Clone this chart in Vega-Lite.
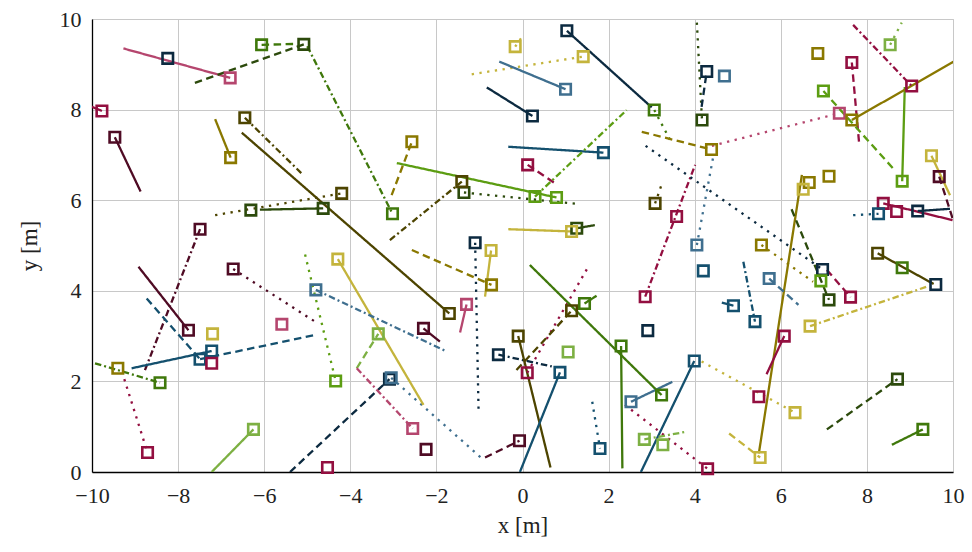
{
  "$schema": "https://vega.github.io/schema/vega-lite/v6.json",
  "width": 861,
  "height": 453,
  "autosize": {"type": "none"},
  "padding": {"left": 92, "top": 19, "right": 19, "bottom": 80},
  "background": "white",
  "config": {
    "view": {"stroke": "#c8c8c8", "strokeWidth": 1},
    "font": "Liberation Serif",
    "axis": {
      "labelFont": "Liberation Serif",
      "titleFont": "Liberation Serif",
      "labelFontSize": 22,
      "titleFontSize": 23,
      "titleFontWeight": "normal",
      "labelColor": "#222",
      "titleColor": "#222",
      "gridColor": "#c8c8c8",
      "gridWidth": 1,
      "domainColor": "#000",
      "domainWidth": 1.3,
      "ticks": false,
      "labelFlush": false,
      "labelPadding": 8
    }
  },
  "datasets": {
    "segs": [
      {"id":1,"p":0,"x":-6.79,"y":8.70,"c":"P","d":"s"},{"id":1,"p":1,"x":-9.27,"y":9.35,"c":"P","d":"s"},
      {"id":3,"p":0,"x":-5.08,"y":9.44,"c":"DG","d":"d"},{"id":3,"p":1,"x":-7.61,"y":8.59,"c":"DG","d":"d"},
      {"id":4,"p":0,"x":-6.06,"y":9.43,"c":"G","d":"d"},{"id":4,"p":1,"x":-5.25,"y":9.45,"c":"G","d":"d"},
      {"id":5,"p":0,"x":-9.77,"y":7.97,"c":"C","d":"s"},{"id":5,"p":1,"x":-10.05,"y":8.08,"c":"C","d":"s"},
      {"id":6,"p":0,"x":-9.47,"y":7.39,"c":"M","d":"s"},{"id":6,"p":1,"x":-8.87,"y":6.19,"c":"M","d":"s"},
      {"id":7,"p":0,"x":-6.78,"y":6.94,"c":"O","d":"s"},{"id":7,"p":1,"x":-7.14,"y":7.79,"c":"O","d":"s"},
      {"id":8,"p":0,"x":-6.45,"y":7.82,"c":"DO","d":"dd"},{"id":8,"p":1,"x":-5.13,"y":6.59,"c":"DO","d":"dd"},
      {"id":9,"p":0,"x":-1.70,"y":3.50,"c":"DO","d":"s"},{"id":9,"p":1,"x":-6.52,"y":7.49,"c":"DO","d":"s"},
      {"id":10,"p":0,"x":-4.63,"y":5.82,"c":"DG","d":"s"},{"id":10,"p":1,"x":-6.10,"y":5.79,"c":"DG","d":"s"},
      {"id":12,"p":0,"x":-4.20,"y":6.15,"c":"DO","d":"t"},{"id":12,"p":1,"x":-7.14,"y":5.67,"c":"DO","d":"t"},
      {"id":13,"p":0,"x":-7.49,"y":5.36,"c":"M","d":"dd"},{"id":13,"p":1,"x":-8.77,"y":2.25,"c":"M","d":"dd"},
      {"id":14,"p":0,"x":-6.72,"y":4.48,"c":"M","d":"t"},{"id":14,"p":1,"x":-4.82,"y":3.32,"c":"M","d":"t"},
      {"id":15,"p":0,"x":-7.76,"y":3.13,"c":"M","d":"s"},{"id":15,"p":1,"x":-8.92,"y":4.53,"c":"M","d":"s"},
      {"id":16,"p":0,"x":-7.49,"y":2.49,"c":"B","d":"d"},{"id":16,"p":1,"x":-8.73,"y":3.83,"c":"B","d":"d"},
      {"id":17,"p":2,"x":-7.49,"y":2.49,"c":"B","d":"d"},{"id":17,"p":1,"x":-4.80,"y":3.03,"c":"B","d":"d"},
      {"id":18,"p":0,"x":-7.22,"y":2.67,"c":"B","d":"s"},{"id":18,"p":1,"x":-9.08,"y":2.29,"c":"B","d":"s"},
      {"id":21,"p":0,"x":-8.71,"y":0.43,"c":"C","d":"t"},{"id":21,"p":1,"x":-9.25,"y":2.05,"c":"C","d":"t"},
      {"id":22,"p":0,"x":-8.42,"y":1.97,"c":"G","d":"dd"},{"id":22,"p":1,"x":-9.93,"y":2.40,"c":"G","d":"dd"},
      {"id":24,"p":0,"x":-6.25,"y":0.94,"c":"LG","d":"s"},{"id":24,"p":1,"x":-7.22,"y":0.0,"c":"LG","d":"s"},
      {"id":26,"p":0,"x":-4.34,"y":2.01,"c":"L","d":"t"},{"id":26,"p":1,"x":-5.05,"y":4.80,"c":"L","d":"t"},
      {"id":27,"p":0,"x":-3.09,"y":2.05,"c":"N","d":"d"},{"id":27,"p":1,"x":-5.40,"y":0.0,"c":"N","d":"d"},
      {"id":28,"p":0,"x":-3.05,"y":2.08,"c":"S","d":"t"},{"id":28,"p":1,"x":-0.92,"y":0.28,"c":"S","d":"t"},
      {"id":29,"p":0,"x":-0.72,"y":4.13,"c":"O","d":"d"},{"id":29,"p":1,"x":-2.57,"y":4.90,"c":"O","d":"d"},
      {"id":30,"p":0,"x":-0.73,"y":4.89,"c":"Y","d":"s"},{"id":30,"p":1,"x":-0.87,"y":3.87,"c":"Y","d":"s"},
      {"id":31,"p":0,"x":-4.29,"y":4.70,"c":"Y","d":"s"},{"id":31,"p":1,"x":-2.30,"y":1.48,"c":"Y","d":"s"},
      {"id":32,"p":0,"x":-4.80,"y":4.02,"c":"S","d":"dd"},{"id":32,"p":1,"x":-1.76,"y":2.66,"c":"S","d":"dd"},
      {"id":33,"p":0,"x":-3.35,"y":3.05,"c":"LG","d":"d"},{"id":33,"p":1,"x":-3.85,"y":2.29,"c":"LG","d":"d"},
      {"id":34,"p":0,"x":-2.55,"y":0.96,"c":"P","d":"dd"},{"id":34,"p":1,"x":-3.85,"y":2.29,"c":"P","d":"dd"},
      {"id":35,"p":0,"x":-2.30,"y":3.17,"c":"M","d":"s"},{"id":35,"p":1,"x":-1.92,"y":2.88,"c":"M","d":"s"},
      {"id":36,"p":0,"x":-1.30,"y":3.70,"c":"P","d":"s"},{"id":36,"p":1,"x":-1.45,"y":3.08,"c":"P","d":"s"},
      {"id":37,"p":0,"x":-1.10,"y":5.06,"c":"N","d":"t"},{"id":37,"p":1,"x":-1.02,"y":1.33,"c":"N","d":"t"},
      {"id":40,"p":0,"x":-0.07,"y":0.69,"c":"M","d":"d"},{"id":40,"p":1,"x":-0.87,"y":0.32,"c":"M","d":"d"},
      {"id":41,"p":0,"x":-0.56,"y":2.59,"c":"N","d":"dd"},{"id":41,"p":1,"x":0.68,"y":2.33,"c":"N","d":"dd"},
      {"id":42,"p":0,"x":-0.10,"y":3.00,"c":"DO","d":"s"},{"id":42,"p":1,"x":0.65,"y":0.10,"c":"DO","d":"s"},
      {"id":43,"p":0,"x":0.11,"y":2.19,"c":"C","d":"t"},{"id":43,"p":1,"x":1.51,"y":4.50,"c":"C","d":"t"},
      {"id":44,"p":0,"x":1.14,"y":3.56,"c":"DO","d":"d"},{"id":44,"p":1,"x":-0.14,"y":2.25,"c":"DO","d":"d"},
      {"id":45,"p":0,"x":1.44,"y":3.72,"c":"G","d":"s"},{"id":45,"p":1,"x":1.72,"y":3.89,"c":"G","d":"s"},
      {"id":46,"p":0,"x":3.23,"y":1.70,"c":"G","d":"s"},{"id":46,"p":1,"x":0.17,"y":4.57,"c":"G","d":"s"},
      {"id":48,"p":0,"x":0.87,"y":2.20,"c":"B","d":"s"},{"id":48,"p":1,"x":-0.06,"y":0.0,"c":"B","d":"s"},
      {"id":49,"p":0,"x":2.29,"y":2.78,"c":"G","d":"s"},{"id":49,"p":1,"x":2.32,"y":0.08,"c":"G","d":"s"},
      {"id":51,"p":0,"x":2.85,"y":3.87,"c":"C","d":"dd"},{"id":51,"p":1,"x":4.01,"y":6.78,"c":"C","d":"dd"},
      {"id":53,"p":0,"x":2.52,"y":1.55,"c":"S","d":"s"},{"id":53,"p":1,"x":3.48,"y":1.99,"c":"S","d":"s"},
      {"id":54,"p":0,"x":3.99,"y":2.45,"c":"B","d":"s"},{"id":54,"p":1,"x":2.75,"y":0.0,"c":"B","d":"s"},
      {"id":55,"p":0,"x":4.30,"y":0.07,"c":"C","d":"t"},{"id":55,"p":1,"x":2.38,"y":1.48,"c":"C","d":"t"},
      {"id":56,"p":0,"x":2.83,"y":0.72,"c":"LG","d":"dd"},{"id":56,"p":1,"x":3.81,"y":0.89,"c":"LG","d":"dd"},
      {"id":58,"p":0,"x":1.80,"y":0.52,"c":"B","d":"t"},{"id":58,"p":1,"x":1.62,"y":1.55,"c":"B","d":"t"},
      {"id":59,"p":0,"x":4.05,"y":5.01,"c":"S","d":"t"},{"id":59,"p":1,"x":4.43,"y":6.96,"c":"S","d":"t"},
      {"id":61,"p":0,"x":4.90,"y":3.67,"c":"B","d":"s"},{"id":61,"p":1,"x":4.63,"y":3.74,"c":"B","d":"s"},
      {"id":62,"p":0,"x":6.33,"y":1.31,"c":"Y","d":"t"},{"id":62,"p":1,"x":4.16,"y":2.44,"c":"Y","d":"t"},
      {"id":63,"p":0,"x":5.52,"y":0.32,"c":"Y","d":"d"},{"id":63,"p":1,"x":4.80,"y":0.85,"c":"Y","d":"d"},
      {"id":64,"p":2,"x":6.49,"y":6.56,"c":"O","d":"s"},{"id":64,"p":1,"x":5.49,"y":0.41,"c":"O","d":"s"},
      {"id":66,"p":0,"x":6.08,"y":3.00,"c":"C","d":"s"},{"id":66,"p":1,"x":5.67,"y":2.16,"c":"C","d":"s"},
      {"id":68,"p":0,"x":6.68,"y":3.22,"c":"Y","d":"dd"},{"id":68,"p":1,"x":9.39,"y":4.09,"c":"Y","d":"dd"},
      {"id":70,"p":0,"x":8.25,"y":4.83,"c":"DO","d":"s"},{"id":70,"p":1,"x":9.55,"y":4.15,"c":"DO","d":"s"},
      {"id":72,"p":0,"x":8.71,"y":2.05,"c":"DG","d":"d"},{"id":72,"p":1,"x":7.07,"y":0.94,"c":"DG","d":"d"},
      {"id":73,"p":0,"x":9.30,"y":0.94,"c":"G","d":"s"},{"id":73,"p":1,"x":8.58,"y":0.60,"c":"G","d":"s"},
      {"id":74,"p":0,"x":5.73,"y":4.27,"c":"S","d":"d"},{"id":74,"p":1,"x":6.41,"y":3.69,"c":"S","d":"d"},
      {"id":75,"p":0,"x":5.40,"y":3.32,"c":"B","d":"dd"},{"id":75,"p":1,"x":5.13,"y":4.64,"c":"B","d":"dd"},
      {"id":76,"p":0,"x":6.97,"y":4.47,"c":"N","d":"t"},{"id":76,"p":1,"x":2.86,"y":7.20,"c":"N","d":"t"},
      {"id":77,"p":0,"x":5.55,"y":5.01,"c":"O","d":"t"},{"id":77,"p":1,"x":6.75,"y":4.20,"c":"O","d":"t"},
      {"id":78,"p":0,"x":7.12,"y":3.80,"c":"DG","d":"d"},{"id":78,"p":1,"x":6.25,"y":5.80,"c":"DG","d":"d"},
      {"id":79,"p":0,"x":7.62,"y":3.86,"c":"C","d":"d"},{"id":79,"p":1,"x":7.07,"y":4.46,"c":"C","d":"d"},
      {"id":81,"p":0,"x":7.65,"y":9.04,"c":"C","d":"d"},{"id":81,"p":1,"x":7.82,"y":7.25,"c":"C","d":"d"},
      {"id":82,"p":0,"x":6.99,"y":8.41,"c":"L","d":"d"},{"id":82,"p":1,"x":8.61,"y":6.70,"c":"L","d":"d"},
      {"id":83,"p":0,"x":8.82,"y":6.42,"c":"L","d":"s"},{"id":83,"p":1,"x":8.88,"y":8.50,"c":"L","d":"s"},
      {"id":84,"p":0,"x":7.36,"y":7.92,"c":"P","d":"t"},{"id":84,"p":1,"x":4.40,"y":7.20,"c":"P","d":"t"},
      {"id":85,"p":0,"x":7.65,"y":7.77,"c":"O","d":"s"},{"id":85,"p":1,"x":10.02,"y":9.06,"c":"O","d":"s"},
      {"id":86,"p":0,"x":9.04,"y":8.52,"c":"C","d":"dd"},{"id":86,"p":1,"x":7.68,"y":9.87,"c":"C","d":"dd"},
      {"id":87,"p":0,"x":8.54,"y":9.43,"c":"LG","d":"t"},{"id":87,"p":1,"x":8.81,"y":9.92,"c":"LG","d":"t"},
      {"id":88,"p":0,"x":9.50,"y":6.98,"c":"Y","d":"s"},{"id":88,"p":1,"x":9.93,"y":6.11,"c":"Y","d":"s"},
      {"id":89,"p":0,"x":9.68,"y":6.52,"c":"M","d":"d"},{"id":89,"p":1,"x":9.99,"y":5.60,"c":"M","d":"d"},
      {"id":90,"p":0,"x":8.38,"y":5.93,"c":"C","d":"s"},{"id":90,"p":1,"x":9.99,"y":5.56,"c":"C","d":"s"},
      {"id":92,"p":0,"x":9.18,"y":5.76,"c":"N","d":"s"},{"id":92,"p":1,"x":9.93,"y":5.81,"c":"N","d":"s"},
      {"id":93,"p":0,"x":8.27,"y":5.70,"c":"B","d":"t"},{"id":93,"p":1,"x":7.68,"y":5.67,"c":"B","d":"t"},
      {"id":94,"p":0,"x":1.03,"y":9.74,"c":"N","d":"s"},{"id":94,"p":1,"x":3.00,"y":8.05,"c":"N","d":"s"},
      {"id":95,"p":0,"x":3.06,"y":7.99,"c":"G","d":"t"},{"id":95,"p":1,"x":3.43,"y":7.33,"c":"G","d":"t"},
      {"id":96,"p":0,"x":1.41,"y":9.17,"c":"Y","d":"t"},{"id":96,"p":1,"x":-1.18,"y":8.78,"c":"Y","d":"t"},
      {"id":97,"p":0,"x":1.00,"y":8.45,"c":"S","d":"s"},{"id":97,"p":1,"x":-0.54,"y":9.06,"c":"S","d":"s"},
      {"id":98,"p":0,"x":0.23,"y":7.86,"c":"N","d":"s"},{"id":98,"p":1,"x":-0.83,"y":8.49,"c":"N","d":"s"},
      {"id":99,"p":0,"x":1.88,"y":7.05,"c":"B","d":"s"},{"id":99,"p":1,"x":-0.33,"y":7.18,"c":"B","d":"s"},
      {"id":100,"p":0,"x":0.12,"y":6.78,"c":"C","d":"d"},{"id":100,"p":1,"x":0.76,"y":6.37,"c":"C","d":"d"},
      {"id":101,"p":0,"x":0.79,"y":6.06,"c":"L","d":"s"},{"id":101,"p":1,"x":-2.92,"y":6.82,"c":"L","d":"s"},
      {"id":102,"p":0,"x":0.29,"y":6.08,"c":"L","d":"dd"},{"id":102,"p":1,"x":2.42,"y":7.99,"c":"L","d":"dd"},
      {"id":103,"p":0,"x":-1.36,"y":6.17,"c":"DG","d":"t"},{"id":103,"p":1,"x":1.26,"y":5.92,"c":"DG","d":"t"},
      {"id":104,"p":0,"x":-1.41,"y":6.41,"c":"DO","d":"dd"},{"id":104,"p":1,"x":-3.08,"y":5.12,"c":"DO","d":"dd"},
      {"id":105,"p":0,"x":-2.57,"y":7.29,"c":"O","d":"d"},{"id":105,"p":1,"x":-3.04,"y":6.11,"c":"O","d":"d"},
      {"id":106,"p":0,"x":-3.02,"y":5.70,"c":"G","d":"dd"},{"id":106,"p":1,"x":-5.00,"y":9.40,"c":"G","d":"dd"},
      {"id":107,"p":0,"x":3.08,"y":5.93,"c":"DO","d":"t"},{"id":107,"p":1,"x":3.23,"y":6.34,"c":"DO","d":"t"},
      {"id":108,"p":0,"x":1.26,"y":5.38,"c":"DG","d":"s"},{"id":108,"p":1,"x":1.68,"y":5.45,"c":"DG","d":"s"},
      {"id":109,"p":0,"x":1.14,"y":5.31,"c":"Y","d":"s"},{"id":109,"p":1,"x":-0.33,"y":5.36,"c":"Y","d":"s"},
      {"id":110,"p":0,"x":4.17,"y":7.77,"c":"DG","d":"t"},{"id":110,"p":1,"x":4.05,"y":9.92,"c":"DG","d":"t"},
      {"id":111,"p":0,"x":4.28,"y":8.84,"c":"N","d":"d"},{"id":111,"p":1,"x":4.16,"y":8.06,"c":"N","d":"d"},
      {"id":113,"p":0,"x":4.39,"y":7.12,"c":"O","d":"d"},{"id":113,"p":1,"x":2.77,"y":7.51,"c":"O","d":"d"},
      {"id":114,"p":0,"x":-0.17,"y":9.39,"c":"Y","d":"t"},{"id":114,"p":1,"x":0.00,"y":9.62,"c":"Y","d":"t"},
      {"id":201,"p":0,"x":-8.24,"y":9.13,"c":"N","d":"n"},
      {"id":202,"p":0,"x":-6.31,"y":5.78,"c":"DG","d":"n"},
      {"id":203,"p":0,"x":-7.22,"y":2.40,"c":"C","d":"n"},
      {"id":204,"p":0,"x":-9.40,"y":2.29,"c":"O","d":"n"},
      {"id":205,"p":0,"x":-7.20,"y":3.05,"c":"Y","d":"n"},
      {"id":206,"p":0,"x":-5.59,"y":3.26,"c":"P","d":"n"},
      {"id":207,"p":0,"x":-2.24,"y":0.50,"c":"M","d":"n"},
      {"id":208,"p":0,"x":-4.53,"y":0.10,"c":"C","d":"n"},
      {"id":209,"p":0,"x":1.06,"y":2.65,"c":"LG","d":"n"},
      {"id":210,"p":0,"x":2.91,"y":3.12,"c":"N","d":"n"},
      {"id":211,"p":0,"x":3.58,"y":5.64,"c":"C","d":"n"},
      {"id":212,"p":0,"x":3.26,"y":0.60,"c":"LG","d":"n"},
      {"id":213,"p":0,"x":4.20,"y":4.44,"c":"B","d":"n"},
      {"id":214,"p":0,"x":6.66,"y":6.39,"c":"O","d":"n"},
      {"id":215,"p":0,"x":6.52,"y":6.24,"c":"Y","d":"n"},
      {"id":216,"p":0,"x":7.12,"y":6.53,"c":"O","d":"n"},
      {"id":217,"p":0,"x":5.49,"y":1.66,"c":"C","d":"n"},
      {"id":218,"p":0,"x":9.60,"y":4.14,"c":"N","d":"n"},
      {"id":219,"p":0,"x":8.82,"y":4.51,"c":"G","d":"n"},
      {"id":220,"p":0,"x":6.86,"y":9.24,"c":"O","d":"n"},
      {"id":221,"p":0,"x":8.69,"y":5.75,"c":"C","d":"n"},
      {"id":222,"p":0,"x":4.69,"y":8.74,"c":"S","d":"n"},
      {"id":223,"p":0,"x":6.93,"y":4.22,"c":"L","d":"n"}
    ]
  },
  "data": {"name": "segs"},
  "encoding": {
    "x": {"field": "x", "type": "quantitative", "scale": {"domain": [-10, 10], "nice": false, "zero": false},
      "axis": {"values": [-10, -8, -6, -4, -2, 0, 2, 4, 6, 8, 10], "title": "x [m]", "titlePadding": 8, "labelPadding": 13, "labelFont": "Liberation Serif", "labelFlush": false}},
    "y": {"field": "y", "type": "quantitative", "scale": {"domain": [0, 10], "nice": false, "zero": false},
      "axis": {"values": [0, 2, 4, 6, 8, 10], "title": "y [m]", "titlePadding": 18, "labelPadding": 11, "labelFont": "Liberation Serif", "labelFlush": false}},
    "color": {"field": "c", "type": "nominal", "legend": null,
      "scale": {"domain": ["N", "B", "S", "M", "C", "P", "DO", "O", "Y", "DG", "G", "L", "LG"],
        "range": ["#0c2a40", "#14506e", "#3f6f8f", "#4f0b24", "#930f40", "#b5466e", "#4d4400", "#8a7800", "#c4b43c", "#2c4a0c", "#3f780b", "#5c9d12", "#7db043"]}}
  },
  "layer": [
    {
      "transform": [{"filter": "datum.d != 'n'"}],
      "mark": {"type": "line", "strokeWidth": 2.3, "clip": true, "strokeCap": "butt"},
      "encoding": {
        "detail": {"field": "id", "type": "nominal"},
        "strokeDash": {"field": "d", "type": "nominal", "legend": null,
          "scale": {"domain": ["s", "d", "t", "dd"], "range": [[1, 0], [7.5, 4.5], [2.3, 5.5], [6.5, 3, 2, 3]]}}
      }
    },
    {
      "transform": [{"filter": "datum.p == 0"}],
      "mark": {"type": "point", "shape": "square", "filled": false, "size": 110, "strokeWidth": 2.6, "opacity": 1}
    }
  ]
}
